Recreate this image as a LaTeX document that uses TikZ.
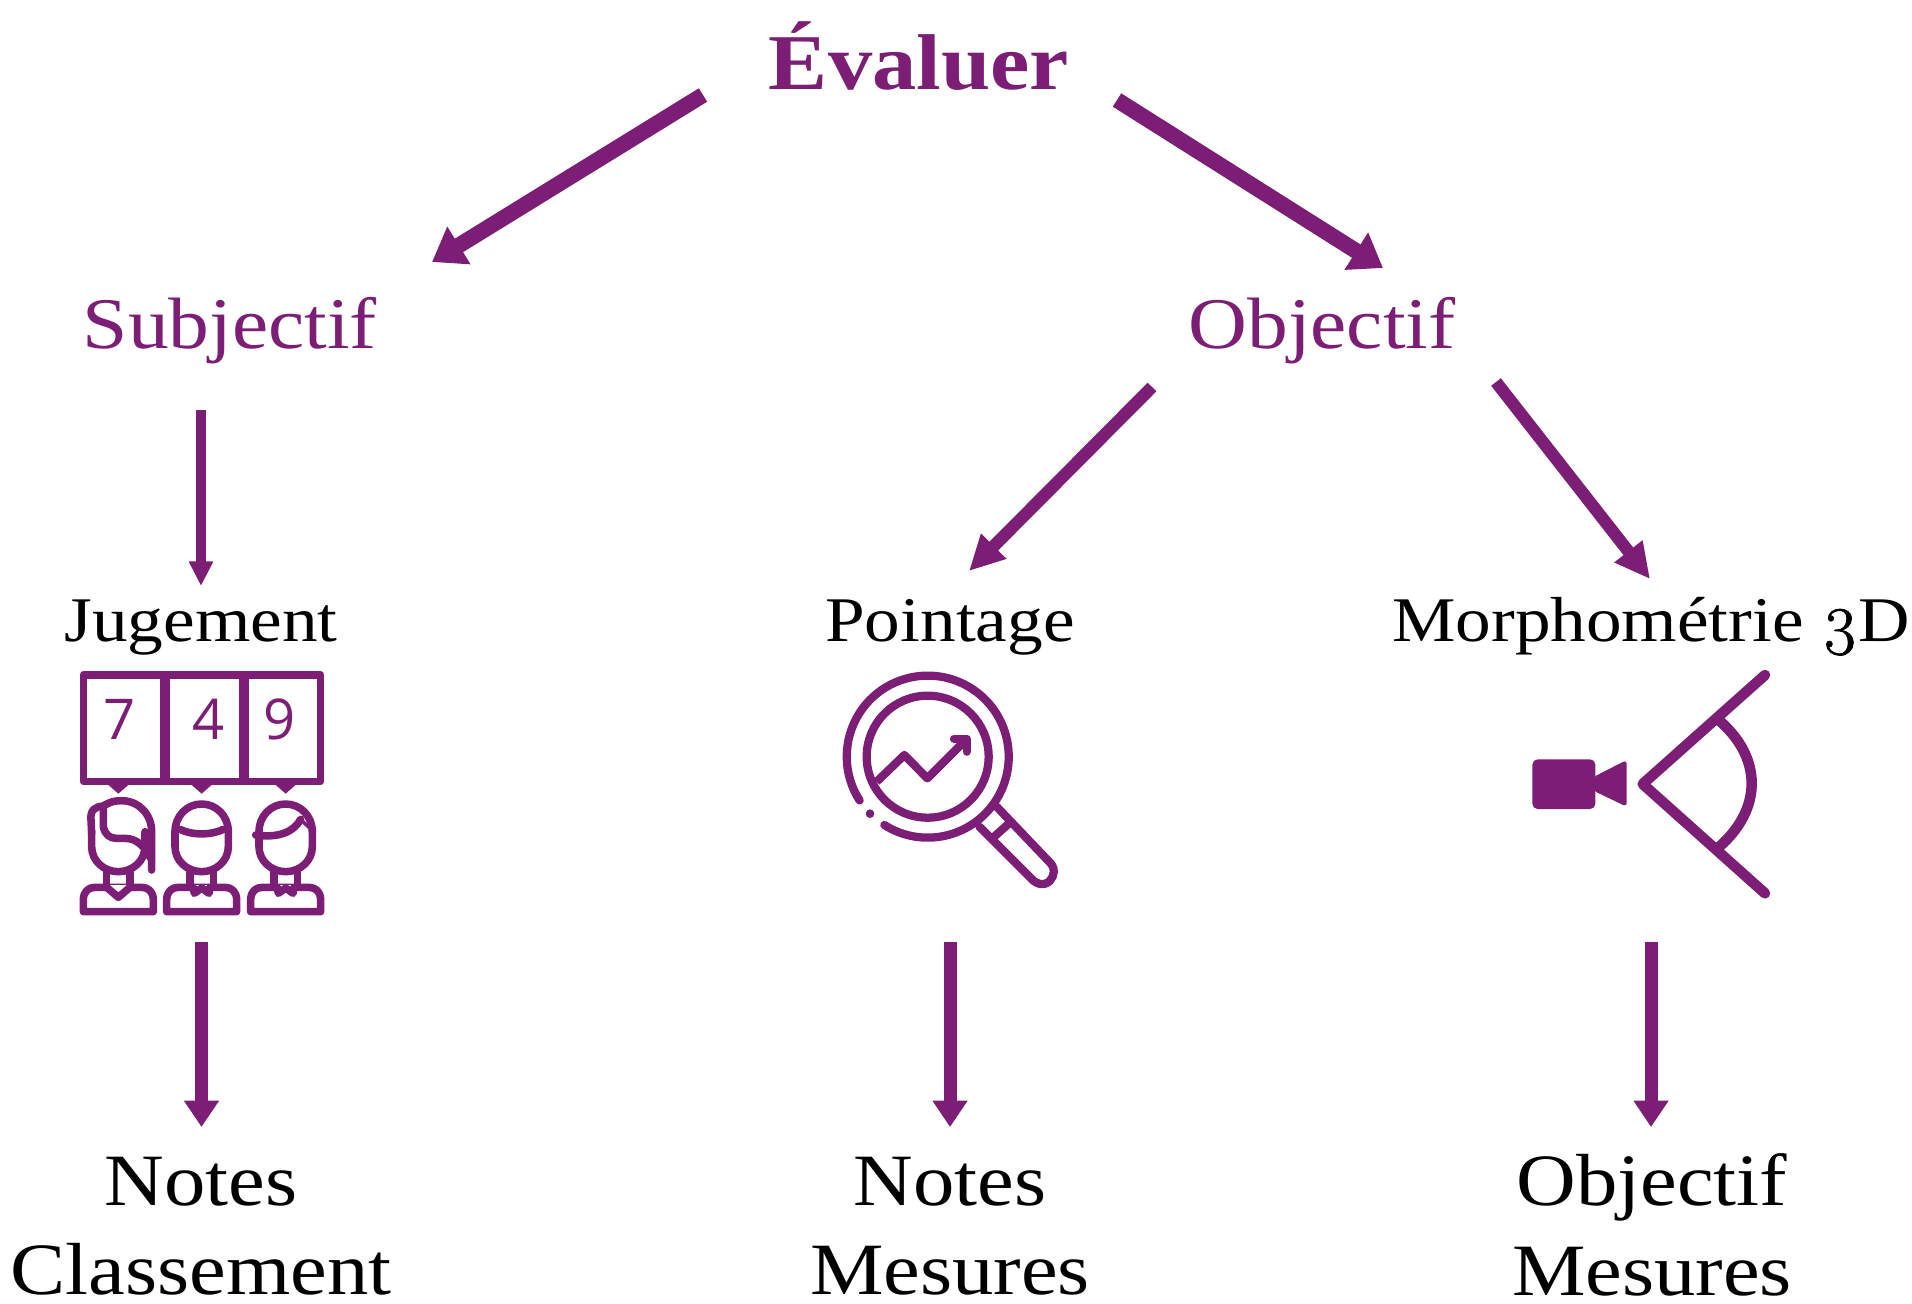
\documentclass[tikz,border=0pt]{standalone}
\usepackage{fontspec}
\usetikzlibrary{arrows.meta}
\setmainfont[FakeStretch=1.12]{Liberation Serif}
\newfontfamily\oldnumfont[Numbers=OldStyle,FakeBold=1.2,Scale=1.08]{Latin Modern Roman}
\newfontfamily\digitfont{Open Sans}
\definecolor{prune}{HTML}{7C1D76}

\tikzset{
  titlenode/.style={anchor=base,text=prune,font=\fontsize{45}{45}\selectfont\bfseries},
  branchnode/.style={anchor=base,text=prune,font=\fontsize{41.4}{41.4}\selectfont},
  methodnode/.style={anchor=base,font=\fontsize{36.2}{36.2}\selectfont},
  resultnode/.style={anchor=center,align=center,inner sep=0pt,font=\fontsize{42}{51}\selectfont},
  digitnode/.style={text=prune,font=\fontsize{32}{32}\digitfont},
  widearrow/.style={draw=prune,fill=prune,line width=9pt,-{Triangle[length=18pt,width=24pt]}},
  midarrow/.style={draw=prune,fill=prune,line width=7pt,-{Triangle[length=20pt,width=19pt]}},
  thinarrow/.style={draw=prune,fill=prune,line width=5.7pt,-{Triangle[length=14pt,width=13pt]}},
  droparrow/.style={draw=prune,fill=prune,line width=7.4pt,-{Triangle[length=15pt,width=19pt]}},
  iconline/.style={draw=prune,line width=4.3pt,line cap=round,line join=round},
  lensline/.style={draw=prune,line width=4.7pt,line cap=round,line join=round},
  eyeline/.style={draw=prune,line width=6pt,line cap=round,line join=round},
}

\begin{document}
\begin{tikzpicture}[x=0.02cm,y=-0.02cm]
  \useasboundingbox (0,0) rectangle (1912,1303);

  % Titles
  \node[titlenode] (evaluer) at (919,89) {Évaluer};
  \node[branchnode] (subjectif) at (230,348) {Subjectif};
  \node[branchnode] (objectif) at (1322,348) {Objectif};

  % Methods
  \node[methodnode] (jugement) at (201,641) {Jugement};
  \node[methodnode] (pointage) at (950,641) {Pointage};
  \node[methodnode] (morpho) at (1651,641) {Morphométrie {\oldnumfont 3}D};

  % Results
  \node[resultnode] (classement) at (201,1226) {Notes\\Classement};
  \node[resultnode] (notesmesures) at (950,1226) {Notes\\Mesures};
  \node[resultnode] (objmesures) at (1652,1225) {Objectif\\Mesures};

  % Free ends of the arrows
  \coordinate (evalgauche) at (703,95);
  \coordinate (subjhaut) at (432,262);
  \coordinate (evaldroite) at (1117,100);
  \coordinate (objhaut) at (1383,268);
  \coordinate (subjbas) at (201,410);
  \coordinate (jughaut) at (201,586);
  \coordinate (objgauche) at (1152,387);
  \coordinate (pointhaut) at (969,571);
  \coordinate (objdroite) at (1496,382);
  \coordinate (morphohaut) at (1650,579);
  \coordinate (jugbas) at (201.5,942);
  \coordinate (classhaut) at (201.5,1127);
  \coordinate (pointbas) at (950,942);
  \coordinate (noteshaut) at (950,1127);
  \coordinate (morphobas) at (1651,942);
  \coordinate (mesureshaut) at (1651,1127);

  \draw[widearrow] (evalgauche) -- (subjhaut);
  \draw[widearrow] (evaldroite) -- (objhaut);
  \draw[midarrow] (objgauche) -- (pointhaut);
  \draw[midarrow] (objdroite) -- (morphohaut);
  \draw[thinarrow] (subjbas) -- (jughaut);
  \draw[droparrow] (jugbas) -- (classhaut);
  \draw[droparrow] (pointbas) -- (noteshaut);
  \draw[droparrow] (morphobas) -- (mesureshaut);

  % Jury: scores and three people
  \begin{scope}[shift={(60,650)},x=0.02cm/3,y=-0.02cm/3]
    \draw[iconline] (70,75) rectangle (782,395);
    \draw[iconline,line cap=butt,line width=5.5pt] (315,75) -- (315,395);
    \draw[iconline,line cap=butt,line width=5.5pt] (553,75) -- (553,395);
    \foreach \cx in {175,425,677}
      \fill[prune,shift={(\cx,0)}] (-32,403) -- (0,431) -- (32,403) -- cycle;
    \node[digitnode] (seven) at (178,208) {7};
    \node[digitnode] (four) at (447,208) {4};
    \node[digitnode] (nine) at (660,208) {9};
    \foreach \cx in {175,425,677} {
      \begin{scope}[shift={(\cx,0)}]
        % shoulders
        \draw[iconline] (-105,785) -- (-105,750) .. controls (-105,725) and (-90,712) .. (-70,712)
          -- (70,712) .. controls (90,712) and (105,725) .. (105,750) -- (105,785) -- cycle;
        \draw[iconline] (-35,665) -- (-35,710);
        \draw[iconline] (35,665) -- (35,710);
        % face
        \draw[iconline] (-80,545) -- (-80,590) .. controls (-80,632) and (-44,665) .. (0,665)
          .. controls (44,665) and (80,632) .. (80,590) -- (80,545);
      \end{scope}
    }
    % woman
    \begin{scope}[shift={(175,0)}]
      \fill[white] (-28,705) rectangle (28,722);
      \draw[iconline] (-35,712) -- (0,742) -- (35,712);
      \draw[iconline] (-80,550) -- (-82,510) .. controls (-85,480) and (-70,470) .. (-45,468)
        .. controls (-25,455) and (-10,452) .. (10,452) .. controls (60,452) and (100,492) .. (100,545) -- (100,660);
      \draw[iconline] (-45,468) -- (-45,530) .. controls (-40,555) and (-25,565) .. (-5,565)
        -- (20,565) .. controls (55,565) and (80,590) .. (97,625);
    \end{scope}
    % first man
    \begin{scope}[shift={(425,0)}]
      \fill[white] (-28,705) rectangle (28,722);
      \draw[iconline] (-25,712) -- (-22,730) -- (0,714) -- (22,730) -- (25,712);
      \draw[iconline] (-80,545) .. controls (-80,498) and (-44,462) .. (0,462)
        .. controls (44,462) and (80,498) .. (80,545);
      \draw[iconline] (-65,538) .. controls (-30,556) and (30,556) .. (65,538);
    \end{scope}
    % second man
    \begin{scope}[shift={(677,0)}]
      \fill[white] (-28,705) rectangle (28,722);
      \draw[iconline] (-25,712) -- (-22,730) -- (0,714) -- (22,730) -- (25,712);
      \draw[iconline] (-80,545) .. controls (-80,498) and (-44,462) .. (0,462)
        .. controls (44,462) and (80,498) .. (80,545);
      \draw[iconline] (-90,555) .. controls (-20,565) and (25,545) .. (45,508);
      \draw[prune,line width=2pt] (45,508) -- (78,540);
    \end{scope}
  \end{scope}

  % Magnifying glass
  \begin{scope}[shift={(820,650)},x=0.02cm/3,y=-0.02cm/3]
    \draw[lensline] (193,525) arc[start angle=122.4,end angle=-212.8,radius=243];
    \fill[prune] (150,491) circle (13);
    \draw[lensline] (323,320) circle (183);
    \draw[lensline,line cap=butt] (170,395) -- (253,315) -- (322,385) -- (432,275);
    \draw[lensline] (402,266) -- (440,266) -- (440,305);
    \draw[lensline] (478,530) -- (640,692) .. controls (665,712) and (690,700) .. (698,680)
      .. controls (705,660) and (700,650) .. (692,640) -- (530,470);
    \draw[lensline] (525,558) -- (565,522);
  \end{scope}

  % Camera and field of view
  \begin{scope}[shift={(1510,650)},x=0.02cm/3,y=-0.02cm/3]
    \fill[prune,rounded corners=3pt] (67,328) rectangle (256,477);
    \fill[prune,rounded corners=2pt] (250,381) -- (350,330) -- (350,470) -- (250,422) -- cycle;
    \draw[eyeline] (765,75) -- (398,402) -- (765,730);
    \draw[eyeline,line cap=butt] (620,205) .. controls (760,320) and (760,480) .. (620,597);
  \end{scope}
\end{tikzpicture}
\end{document}
